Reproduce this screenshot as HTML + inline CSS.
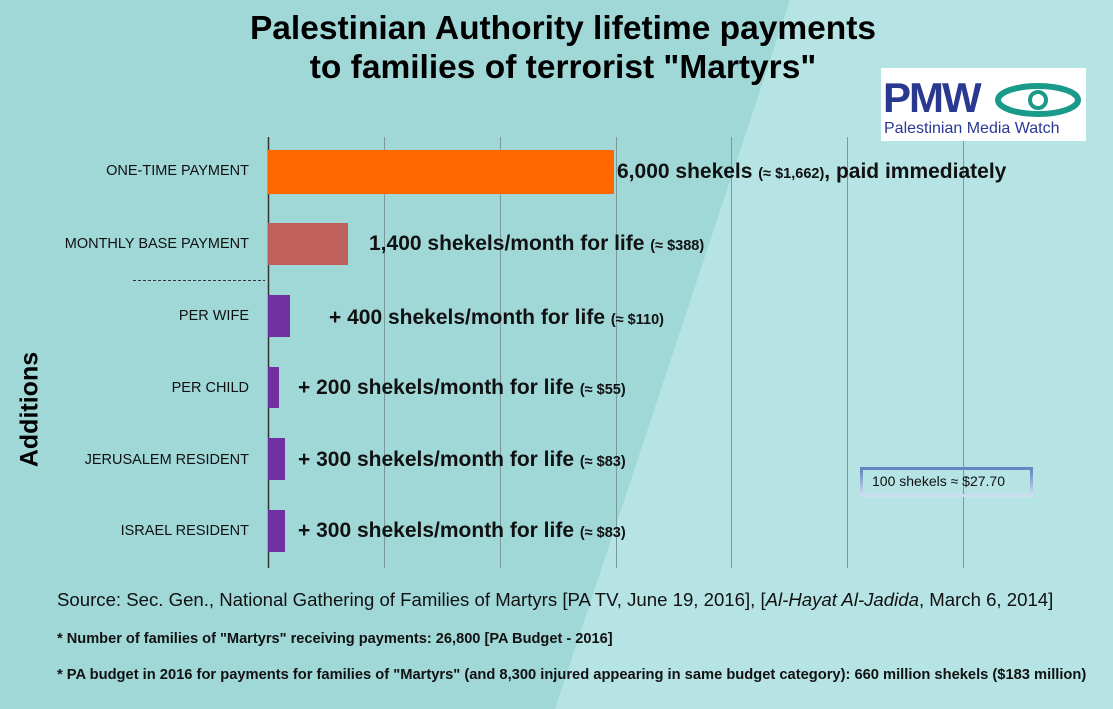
<!DOCTYPE html>
<html><head><meta charset="utf-8"><style>
body{margin:0;width:1113px;height:709px;overflow:hidden;font-family:"Liberation Sans",sans-serif;position:relative}
.bg{position:absolute;inset:0}
.t{position:absolute;white-space:nowrap}
.lab{position:absolute;font-size:14.5px;color:#111;text-align:right;right:864px;white-space:nowrap}
.bar{position:absolute;left:268px}
.v{position:absolute;font-size:21px;font-weight:bold;color:#111;white-space:nowrap}
.v small{font-size:14.5px}
</style></head><body>
<svg class="bg" width="1113" height="709">
<rect width="1113" height="709" fill="#a0d8d8"/>
<polygon points="790,0 1113,0 1113,709 555,709" fill="#b6e3e3"/>
<g stroke="#7a9a9a" stroke-width="1">
<line x1="384.5" y1="137" x2="384.5" y2="568"/>
<line x1="500.5" y1="137" x2="500.5" y2="568"/>
<line x1="616.5" y1="137" x2="616.5" y2="568"/>
<line x1="731.5" y1="137" x2="731.5" y2="568"/>
<line x1="847.5" y1="137" x2="847.5" y2="568"/>
<line x1="963.5" y1="137" x2="963.5" y2="568"/>
</g>
<line x1="268.5" y1="137" x2="268.5" y2="568" stroke="#333" stroke-width="1.5"/>
<line x1="133" y1="280.5" x2="265" y2="280.5" stroke="#333" stroke-dasharray="3,2"/>
</svg>
<div class="t" style="left:0;width:1126px;top:9px;text-align:center;font-size:33.5px;font-weight:bold;line-height:39px;color:#000">Palestinian Authority lifetime payments<br>to families of terrorist "Martyrs"</div>
<div style="position:absolute;left:881px;top:68px;width:205px;height:73px;background:#fff">
<div class="t" style="left:2px;top:8px;font-size:42px;font-weight:bold;color:#2a3990;letter-spacing:-2px;line-height:44px">PMW</div>
<svg style="position:absolute;left:112px;top:10px" width="90" height="44"><ellipse cx="45" cy="22" rx="40" ry="14" fill="none" stroke="#1a9a8a" stroke-width="6"/><circle cx="45" cy="22" r="8" fill="none" stroke="#1a9a8a" stroke-width="4"/></svg>
<div class="t" style="left:3px;top:52px;font-size:16px;color:#2a3990">Palestinian Media Watch</div>
</div>
<div class="lab" style="top:163px">ONE-TIME PAYMENT</div>
<div class="lab" style="top:236px">MONTHLY BASE PAYMENT</div>
<div class="lab" style="top:308px">PER WIFE</div>
<div class="lab" style="top:380px">PER CHILD</div>
<div class="lab" style="top:452px">JERUSALEM RESIDENT</div>
<div class="lab" style="top:523px">ISRAEL RESIDENT</div>
<div class="t" style="left:-30px;top:395px;transform:rotate(-90deg);font-size:25px;font-weight:bold;color:#000;width:120px;text-align:center">Additions</div>
<div class="bar" style="top:150px;height:44px;width:346px;background:#ff6600"></div>
<div class="bar" style="top:223px;height:42px;width:80px;background:#c0605c"></div>
<div class="bar" style="top:295px;height:42px;width:22px;background:#7030a0"></div>
<div class="bar" style="top:367px;height:41px;width:11px;background:#7030a0"></div>
<div class="bar" style="top:438px;height:42px;width:17px;background:#7030a0"></div>
<div class="bar" style="top:510px;height:42px;width:17px;background:#7030a0"></div>
<div class="v" style="left:617px;top:160px">6,000 shekels <small>(≈ $1,662)</small>, paid immediately</div>
<div class="v" style="left:369px;top:232px">1,400 shekels/month for life <small>(≈ $388)</small></div>
<div class="v" style="left:329px;top:306px">+ 400 shekels/month for life <small>(≈ $110)</small></div>
<div class="v" style="left:298px;top:376px">+ 200 shekels/month for life <small>(≈ $55)</small></div>
<div class="v" style="left:298px;top:448px">+ 300 shekels/month for life <small>(≈ $83)</small></div>
<div class="v" style="left:298px;top:519px">+ 300 shekels/month for life <small>(≈ $83)</small></div>
<div style="position:absolute;left:860px;top:467px;width:173px;height:30px;border:3px solid;border-image:linear-gradient(#5f86c0,#d0dcf0) 1;box-sizing:border-box"></div>
<div class="t" style="left:872px;top:473px;font-size:14px;color:#111">100 shekels ≈ $27.70</div>
<div class="t" style="left:57px;top:589px;font-size:18.6px;color:#111">Source: Sec. Gen., National Gathering of Families of Martyrs [PA TV, June 19, 2016], [<i>Al-Hayat Al-Jadida</i>, March 6, 2014]</div>
<div class="t" style="left:57px;top:631px;font-size:14.6px;font-weight:bold;color:#111">* Number of families of "Martyrs" receiving payments: 26,800 [PA Budget - 2016]</div>
<div class="t" style="left:57px;top:667px;font-size:14.7px;font-weight:bold;color:#111">* PA budget in 2016 for payments for families of "Martyrs" (and 8,300 injured appearing in same budget category): 660 million shekels ($183 million)</div>
</body></html>
